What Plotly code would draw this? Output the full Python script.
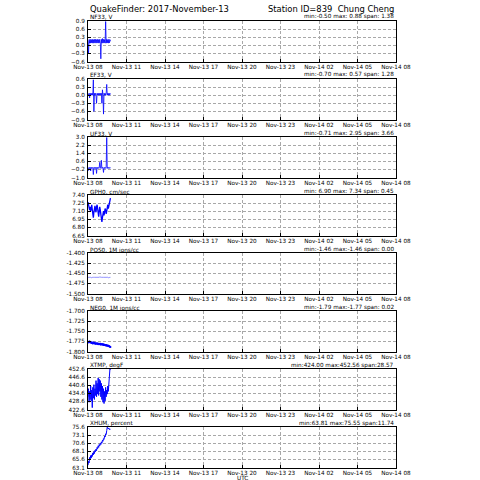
import pandas as pd
import plotly.graph_objects as go

# ---- data ----
times = pd.date_range("2017-11-13 08:00", periods=43, freq="150s")

nf33 = [0.15, -0.30, 0.21, 0.08, 0.22, 0.08, 0.21, 0.09, 0.22, 0.08, 0.21, 0.08, 0.22, 0.09,
        0.22, 0.08, 0.21, 0.09, 0.22, 0.08, 0.21, 0.09, 0.22, 0.08, -0.50, 0.22, 0.08, 0.25,
        0.08, 0.22, 0.09, 0.21, 0.08, 0.88, 0.08, 0.22, 0.09, 0.21, 0.08, 0.22, 0.09, 0.21, 0.15]
ef33 = [0.03, 0.00, 0.07, -0.10, 0.07, 0.00, 0.07, 0.00, 0.07, 0.00, 0.57, -0.60, 0.07, 0.00,
        0.07, 0.00, -0.30, 0.07, 0.00, 0.07, 0.00, 0.07, 0.00, 0.07, 0.00, 0.07, -0.30, 0.20,
        0.00, -0.70, 0.07, 0.00, 0.07, 0.00, 0.07, 0.40, 0.00, 0.07, 0.00, 0.07, 0.00, 0.07, 0.03]
uf33 = [-0.05, -0.30, 0.00, -0.10, 0.00, -0.35, 0.00, -0.10, 0.00, -0.10, -0.71, 0.00, -0.10,
        0.00, -0.10, 0.00, -0.60, 0.00, -0.10, 0.00, -0.10, 0.00, 0.50, -0.10, 0.00, 0.70,
        -0.10, 0.00, -0.10, -0.50, 0.00, -0.10, 0.00, -0.10, 0.00, 2.95, -0.10, 0.00, -0.10,
        0.00, -0.10, 0.00, -0.05]
gph0 = [7.27, 7.20, 7.22, 7.12, 7.18, 7.10, 7.15, 7.22, 7.13, 7.05, 6.98, 7.08, 7.15, 7.20,
        7.12, 7.08, 7.18, 7.22, 7.15, 7.05, 7.00, 7.10, 7.18, 7.12, 7.02, 6.95, 6.90, 6.98,
        7.05, 7.10, 7.02, 7.08, 7.15, 7.12, 7.05, 7.10, 7.18, 7.22, 7.15, 7.20, 7.28, 7.30, 7.34]
pos0 = [-1.460, -1.460, -1.459, -1.460, -1.460, -1.460, -1.461, -1.460, -1.460, -1.460,
        -1.460, -1.459, -1.460, -1.460, -1.460, -1.460, -1.461, -1.460, -1.460, -1.460,
        -1.460, -1.460, -1.459, -1.460, -1.460, -1.460, -1.460, -1.461, -1.460, -1.460,
        -1.460, -1.460, -1.460, -1.459, -1.460, -1.460, -1.460, -1.460, -1.461, -1.460,
        -1.460, -1.460, -1.460]
neg0 = [-1.778, -1.776, -1.777, -1.775, -1.777, -1.778, -1.777, -1.779, -1.778, -1.780,
        -1.779, -1.778, -1.780, -1.779, -1.781, -1.780, -1.780, -1.781, -1.780, -1.782,
        -1.781, -1.781, -1.782, -1.781, -1.783, -1.782, -1.782, -1.783, -1.782, -1.784,
        -1.783, -1.784, -1.784, -1.785, -1.784, -1.785, -1.786, -1.785, -1.786, -1.787,
        -1.787, -1.788, -1.789]
xtmp = [432, 438, 428, 436, 430, 440, 429, 437, 424, 439, 431, 441, 430, 438, 433, 444,
        432, 442, 434, 446, 433, 445, 436, 444, 432, 442, 430, 440, 428, 438, 427, 436,
        429, 439, 432, 437, 434, 440, 436, 446, 448, 452.56, 452]
xhum = [63.81, 65.0, 64.5, 66.2, 65.6, 66.8, 66.0, 67.0, 66.5, 67.6, 67.0, 68.0, 67.4, 68.4,
        68.0, 68.8, 68.3, 69.3, 68.9, 69.8, 69.3, 70.2, 69.8, 70.6, 70.2, 71.0, 70.6, 71.5,
        71.2, 72.0, 71.8, 72.8, 72.5, 73.5, 73.3, 74.5, 75.55, 75.2, 75.0, 75.3, 74.8, 75.0, 74.9]

series = [nf33, ef33, uf33, gph0, pos0, neg0, xtmp, xhum]
names = ["NF33, V", "EF33, V", "UF33, V", "GPH0, cm/sec", "POS0, 1M ions/cc",
         "NEG0, 1M ions/cc", "XTMP, degF", "XHUM, percent"]
stats = ["min:-0.50 max: 0.88 span: 1.38", "min:-0.70 max: 0.57 span: 1.28",
         "min:-0.71 max: 2.95 span: 3.66", "min: 6.90 max: 7.34 span: 0.45",
         "min:-1.46 max:-1.46 span: 0.00", "min:-1.79 max:-1.77 span: 0.02",
         "min:424.00 max:452.56 span:28.57", "min:63.81 max:75.55 span:11.74"]
ytickvals = [
    [0.9, 0.6, 0.3, 0.0, -0.3, -0.6],
    [0.6, 0.3, 0.0, -0.3, -0.6, -0.9],
    [3.0, 2.2, 1.4, 0.6, -0.2, -1.0],
    [7.40, 7.25, 7.10, 6.95, 6.80, 6.65],
    [-1.400, -1.425, -1.450, -1.475, -1.500],
    [-1.700, -1.725, -1.750, -1.775, -1.800],
    [452.6, 446.6, 440.6, 434.6, 428.6, 422.6],
    [75.6, 73.1, 70.6, 68.1, 65.6, 63.1],
]
yticktext = [
    ["0.9", "0.6", "0.3", "0.0", "\u22120.3", "\u22120.6"],
    ["0.6", "0.3", "0.0", "\u22120.3", "\u22120.6", "\u22120.9"],
    ["3.0", "2.2", "1.4", "0.6", "\u22120.2", "\u22121.0"],
    ["7.40", "7.25", "7.10", "6.95", "6.80", "6.65"],
    ["-1.400", "-1.425", "-1.450", "-1.475", "-1.500"],
    ["-1.700", "-1.725", "-1.750", "-1.775", "-1.800"],
    ["452.6", "446.6", "440.6", "434.6", "428.6", "422.6"],
    ["75.6", "73.1", "70.6", "68.1", "65.6", "63.1"],
]
xtickvals = pd.date_range("2017-11-13 08:00", "2017-11-14 08:00", freq="3h")
xticktext = ["Nov-13 08", "Nov-13 11", "Nov-13 14", "Nov-13 17", "Nov-13 20",
             "Nov-13 23", "Nov-14 02", "Nov-14 05", "Nov-14 08"]

# ---- figure ----
W = H = 480
left, right = 88, 396
top0, pitch, ph = 21, 58, 40.5
FONT = "DejaVu Sans"
TICK = 5.7
LAB = 5.7

fig = go.Figure()
layout = dict(width=W, height=H, margin=dict(l=0, r=0, t=0, b=0, autoexpand=False),
              paper_bgcolor="white", plot_bgcolor="white", showlegend=False,
              font=dict(family=FONT, color="black", size=TICK))
annotations = []
for i, (ys, nm, st) in enumerate(zip(series, names, stats)):
    k = "" if i == 0 else str(i + 1)
    top = top0 + pitch * i
    y1 = 1 - top / H
    y0 = 1 - (top + ph) / H
    x0, x1 = left / W, right / W
    lo, hi = min(ytickvals[i]), max(ytickvals[i])
    color = "rgba(100,100,255,0.7)" if i == 4 else "#0000ff"
    mode = "lines+markers" if i == 5 else "lines"
    lw = 0.8 if i < 3 else (1.3 if i in (3, 5) else 1)
    fig.add_trace(go.Scatter(x=times, y=ys, mode=mode, xaxis="x" + k, yaxis="y" + k,
                             line=dict(color=color, width=lw),
                             marker=dict(size=2, color=color), hoverinfo="skip"))
    common = dict(showline=True, mirror=True, linecolor="black", linewidth=1,
                  showgrid=True, gridcolor="#a8a8a8", griddash="3px,2px", gridwidth=0.6,
                  ticks="inside", ticklen=3, tickcolor="black", tickwidth=0.6,
                  zeroline=False, fixedrange=True, automargin=False,
                  tickfont=dict(size=TICK, family=FONT, color="black"))
    layout["xaxis" + k] = dict(domain=[x0, x1], anchor="y" + k,
                               range=["2017-11-13 08:00", "2017-11-14 08:00"],
                               tickvals=list(xtickvals), ticktext=xticktext, tickangle=0,
                               ticklabelstandoff=0, **common)
    layout["yaxis" + k] = dict(domain=[y0, y1], anchor="x" + k, range=[lo, hi],
                               tickvals=ytickvals[i], ticktext=yticktext[i],
                               ticklabelstandoff=1, **common)
    annotations.append(dict(text=nm, x=x0, y=y1, xref="paper", yref="paper",
                            xanchor="left", yanchor="bottom", showarrow=False,
                            font=dict(size=LAB, family=FONT), yshift=-1.5))
    annotations.append(dict(text=st, x=x1, y=y1, xref="paper", yref="paper",
                            xanchor="right", yanchor="bottom", showarrow=False,
                            font=dict(size=LAB, family=FONT), yshift=-1.5))

annotations.append(dict(text="UTC", x=(left + right) / 2 / W, y=1 - 477.5 / H,
                        xref="paper", yref="paper", xanchor="center", yanchor="middle",
                        showarrow=False, font=dict(size=LAB, family=FONT)))
annotations.append(dict(text="QuakeFinder: 2017-November-13", x=left / W, y=1 - 9.5 / H,
                        xref="paper", yref="paper", xanchor="left", yanchor="middle",
                        showarrow=False, font=dict(size=8.4, family=FONT)))
annotations.append(dict(text="Station ID=839  Chung Cheng", x=right / W, y=1 - 9.5 / H,
                        xref="paper", yref="paper", xanchor="right", yanchor="middle",
                        showarrow=False, font=dict(size=8.4, family=FONT)))
layout["annotations"] = annotations
fig.update_layout(**layout)
fig.write_html("out.html")
